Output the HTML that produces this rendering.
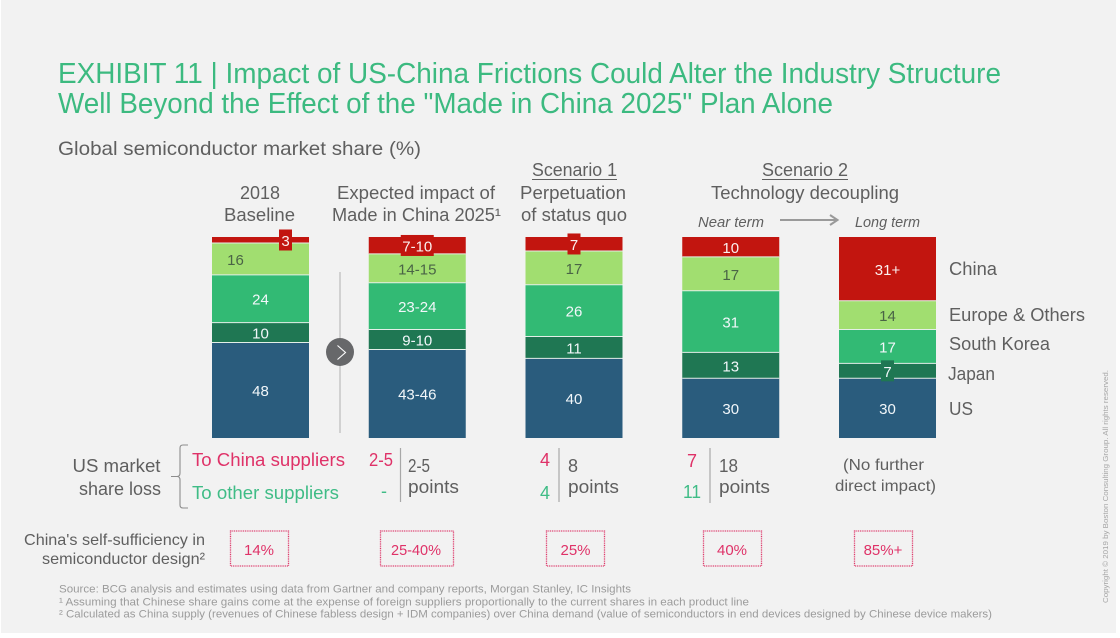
<!DOCTYPE html>
<html lang="en">
<head>
<meta charset="utf-8">
<title>Exhibit 11</title>
<style>
html,body{margin:0;padding:0;background:#fff;width:1120px;height:638px;overflow:hidden}
svg{display:block}
text{font-family:"Liberation Sans",sans-serif}
.t{fill:#5f5f5f;font-size:18px}
.title{fill:#3cba80;font-size:29px}
.pink{fill:#df3268;font-size:18px}
.grn{fill:#3fbc86;font-size:18px}
.note{fill:#9b9b9b;font-size:11px}
.boxt{fill:#df3268;font-size:15px;text-anchor:middle}
.box{fill:none;stroke:#dd3a6b;stroke-width:1.3;stroke-dasharray:1 .8}
</style>
</head>
<body>
<svg id="chart" xmlns="http://www.w3.org/2000/svg" width="1120" height="638" viewBox="0 0 1120 638">
<rect x="1" y="0" width="1115" height="633" fill="#f2f2f2"/>

<text class="title" x="58" y="83" textLength="943" lengthAdjust="spacingAndGlyphs">EXHIBIT 11 | Impact of US-China Frictions Could Alter the Industry Structure</text>
<text class="title" x="58" y="113" textLength="775" lengthAdjust="spacingAndGlyphs">Well Beyond the Effect of the "Made in China 2025" Plan Alone</text>
<text class="t" x="58" y="155" style="font-size:19.5px" textLength="363" lengthAdjust="spacingAndGlyphs">Global semiconductor market share (%)</text>

<text class="t" x="240" y="199" textLength="40" lengthAdjust="spacingAndGlyphs">2018</text>
<text class="t" x="224" y="221" textLength="71" lengthAdjust="spacingAndGlyphs">Baseline</text>
<text class="t" x="337" y="199" textLength="158" lengthAdjust="spacingAndGlyphs">Expected impact of</text>
<text class="t" x="332" y="221" textLength="169" lengthAdjust="spacingAndGlyphs">Made in China 2025¹</text>
<text class="t" x="532" y="176" textLength="85" lengthAdjust="spacingAndGlyphs">Scenario 1</text>
<line x1="532" x2="617" y1="179.5" y2="179.5" stroke="#5f5f5f" stroke-width="1"/>
<text class="t" x="520" y="199" textLength="106" lengthAdjust="spacingAndGlyphs">Perpetuation</text>
<text class="t" x="521" y="221" textLength="106" lengthAdjust="spacingAndGlyphs">of status quo</text>
<text class="t" x="762" y="176" textLength="86" lengthAdjust="spacingAndGlyphs">Scenario 2</text>
<line x1="762" x2="848" y1="179.5" y2="179.5" stroke="#5f5f5f" stroke-width="1"/>
<text class="t" x="711" y="199" textLength="188" lengthAdjust="spacingAndGlyphs">Technology decoupling</text>
<text class="t" x="698" y="227" style="font-size:15px;font-style:italic" textLength="66" lengthAdjust="spacingAndGlyphs">Near term</text>
<text class="t" x="855" y="227" style="font-size:15px;font-style:italic" textLength="65" lengthAdjust="spacingAndGlyphs">Long term</text>
<path d="M780 220H837M830 215L837.5 220L830 225" fill="none" stroke="#9a9a9a" stroke-width="2"/>

<line x1="340" x2="340" y1="272" y2="433" stroke="#c6c6c6" stroke-width="1.5"/>
<circle cx="340" cy="352" r="14" fill="#67686a"/>
<path d="M337.5 345.5L345.5 352.5L337.5 359.5" fill="none" stroke="#fff" stroke-width="1.1"/>

<g id="bars"></g>

<text class="t" x="949" y="275" textLength="48" lengthAdjust="spacingAndGlyphs">China</text>
<text class="t" x="949" y="321" textLength="136" lengthAdjust="spacingAndGlyphs">Europe &amp; Others</text>
<text class="t" x="949" y="350" textLength="101" lengthAdjust="spacingAndGlyphs">South Korea</text>
<text class="t" x="948" y="380" textLength="47" lengthAdjust="spacingAndGlyphs">Japan</text>
<text class="t" x="949" y="415" textLength="24" lengthAdjust="spacingAndGlyphs">US</text>

<text class="t" x="72.5" y="472" textLength="88" lengthAdjust="spacingAndGlyphs">US market</text>
<text class="t" x="79" y="495" textLength="82" lengthAdjust="spacingAndGlyphs">share loss</text>
<path d="M188 445H183Q180 445 180 448V473Q180 476.500 177 476.500H171M177 476.500Q180 476.500 180 480V505Q180 508 183 508H188" fill="none" stroke="#8c8c8c" stroke-width="1.1"/>
<text class="pink" x="192" y="466" textLength="153" lengthAdjust="spacingAndGlyphs">To China suppliers</text>
<text class="grn" x="192" y="499" textLength="147" lengthAdjust="spacingAndGlyphs">To other suppliers</text>

<text class="pink" x="369" y="466" textLength="24" lengthAdjust="spacingAndGlyphs">2-5</text>
<text class="grn" x="381" y="497">-</text>
<line x1="400.500" x2="400.500" y1="448" y2="502" stroke="#a8a8a8" stroke-width="1.2"/>
<text class="t" x="408" y="472" textLength="22" lengthAdjust="spacingAndGlyphs">2-5</text>
<text class="t" x="408" y="493" textLength="51" lengthAdjust="spacingAndGlyphs">points</text>

<text class="pink" x="540" y="466">4</text>
<text class="grn" x="540" y="499">4</text>
<line x1="559" x2="559" y1="448" y2="502" stroke="#a8a8a8" stroke-width="1.2"/>
<text class="t" x="568" y="472">8</text>
<text class="t" x="568" y="493" textLength="51" lengthAdjust="spacingAndGlyphs">points</text>

<text class="pink" x="687" y="467">7</text>
<text class="grn" x="683" y="498" textLength="18" lengthAdjust="spacingAndGlyphs">11</text>
<line x1="710" x2="710" y1="448" y2="503" stroke="#a8a8a8" stroke-width="1.2"/>
<text class="t" x="719" y="472" textLength="19" lengthAdjust="spacingAndGlyphs">18</text>
<text class="t" x="719" y="493" textLength="51" lengthAdjust="spacingAndGlyphs">points</text>

<text class="t" x="843" y="470" style="font-size:16px" textLength="81" lengthAdjust="spacingAndGlyphs">(No further</text>
<text class="t" x="835" y="491" style="font-size:16px" textLength="101" lengthAdjust="spacingAndGlyphs">direct impact)</text>

<text class="t" x="24" y="545" style="font-size:16px" textLength="181" lengthAdjust="spacingAndGlyphs">China's self-sufficiency in</text>
<text class="t" x="42" y="564" style="font-size:16px" textLength="163" lengthAdjust="spacingAndGlyphs">semiconductor design²</text>

<rect class="box" x="230.500" y="531" width="58" height="35"/>
<text class="boxt" x="259" y="555">14%</text>
<rect class="box" x="380.500" y="531" width="73" height="35"/>
<text class="boxt" x="416" y="555" textLength="50" lengthAdjust="spacingAndGlyphs">25-40%</text>
<rect class="box" x="546.500" y="531" width="58" height="35"/>
<text class="boxt" x="575.500" y="555">25%</text>
<rect class="box" x="703.500" y="531" width="58" height="35"/>
<text class="boxt" x="732" y="555">40%</text>
<rect class="box" x="854.500" y="531" width="58" height="35"/>
<text class="boxt" x="883" y="555">85%+</text>

<text class="note" x="59" y="592.500" textLength="572" lengthAdjust="spacingAndGlyphs">Source: BCG analysis and estimates using data from Gartner and company reports, Morgan Stanley, IC Insights</text>
<text class="note" x="59" y="605.500" textLength="690" lengthAdjust="spacingAndGlyphs">¹ Assuming that Chinese share gains come at the expense of foreign suppliers proportionally to the current shares in each product line</text>
<text class="note" x="59" y="617.500" textLength="933" lengthAdjust="spacingAndGlyphs">² Calculated as China supply (revenues of Chinese fabless design + IDM companies) over China demand (value of semiconductors in end devices designed by Chinese device makers)</text>
<text transform="translate(1108 603) rotate(-90)" style="font-size:7.5px;fill:#a6a6a6" textLength="233" lengthAdjust="spacingAndGlyphs">Copyright © 2019 by Boston Consulting Group. All rights reserved.</text>
</svg>
<script>
const categories = ['2018 baseline', 'Made in China 2025', 'Scenario 1', 'Scenario 2 near term', 'Scenario 2 long term'];
const usShare = [48, 44.5, 40, 30, 30];
const japanShare = [10, 10, 11, 13, 7.5];
const koreaShare = [24, 23.5, 26, 31, 17];
const europeShare = [16, 14.5, 17, 17, 14.5];
const chinaShare = [3, 8.5, 7, 10, 32];
const usLabels = ['48', '43-46', '40', '30', '30'];
const japanLabels = ['10', '9-10', '11', '13', '7'];
const koreaLabels = ['24', '23-24', '26', '31', '17'];
const europeLabels = ['16', '14-15', '17', '17', '14'];
const chinaLabels = ['3', '7-10', '7', '10', '31+'];

const seriesKeys = ['us', 'japan', 'korea', 'europe', 'china'];
const seriesValues = [usShare, japanShare, koreaShare, europeShare, chinaShare];
const seriesLabels = [usLabels, japanLabels, koreaLabels, europeLabels, chinaLabels];
const seriesFill = ['#2a5c7d', '#1f7753', '#32ba74', '#a1de70', '#c2150f'];
const labelFill = ['#f2f7fa', '#f2f7fa', '#f2f7fa', '#4a6446', '#fbf0ef'];

const NS = 'http://www.w3.org/2000/svg';
const barsGroup = document.getElementById('bars');
const barWidth = 97;
const xScale = function (i) { return 212 + 156.75 * i; };
const yScale = function (v) { return 438 - v * 1.99; };

categories.forEach(function (category, b) {
  let cumulative = 0;
  seriesKeys.forEach(function (key, s) {
    const value = seriesValues[s][b];
    const y0 = yScale(cumulative);
    const y1 = yScale(cumulative + value);
    cumulative += value;
    const x = xScale(b);

    const rect = document.createElementNS(NS, 'rect');
    
    
    rect.setAttribute('x', x);
    rect.setAttribute('y', y1);
    rect.setAttribute('width', barWidth);
    rect.setAttribute('height', y0 - y1);
    rect.setAttribute('fill', seriesFill[s]);
    barsGroup.appendChild(rect);

    if (s > 0) {
      const sep = document.createElementNS(NS, 'line');
      
      
      sep.setAttribute('x1', x);
      sep.setAttribute('x2', x + barWidth);
      sep.setAttribute('y1', y0);
      sep.setAttribute('y2', y0);
      sep.setAttribute('stroke', '#e4efe8');
      sep.setAttribute('stroke-width', '1');
      barsGroup.appendChild(sep);
    }
  });
});

categories.forEach(function (category, b) {
  let cumulative = 0;
  seriesKeys.forEach(function (key, s) {
    const value = seriesValues[s][b];
    const y0 = yScale(cumulative);
    const y1 = yScale(cumulative + value);
    cumulative += value;
    const mid = (y0 + y1) / 2;
    const label = seriesLabels[s][b];
    let cx = xScale(b) + barWidth / 2;
    if (b === 0 && key === 'china') { cx += 25; }
    if (b === 0 && key === 'europe') { cx -= 25; }

    if (value < 9) {
      const badgeWidth = label.length > 1 ? 33 : 13;
      const badge = document.createElementNS(NS, 'rect');
      
      
      badge.setAttribute('x', cx - badgeWidth / 2);
      badge.setAttribute('y', mid - 10.5);
      badge.setAttribute('width', badgeWidth);
      badge.setAttribute('height', 21);
      badge.setAttribute('fill', seriesFill[s]);
      barsGroup.appendChild(badge);
    }

    const text = document.createElementNS(NS, 'text');
    
    
    text.setAttribute('x', cx);
    text.setAttribute('y', mid + 6);
    text.setAttribute('text-anchor', 'middle');
    text.setAttribute('font-size', '15');
    text.setAttribute('fill', labelFill[s]);
    text.textContent = label;
    barsGroup.appendChild(text);
  });
});
</script>
</body>
</html>
